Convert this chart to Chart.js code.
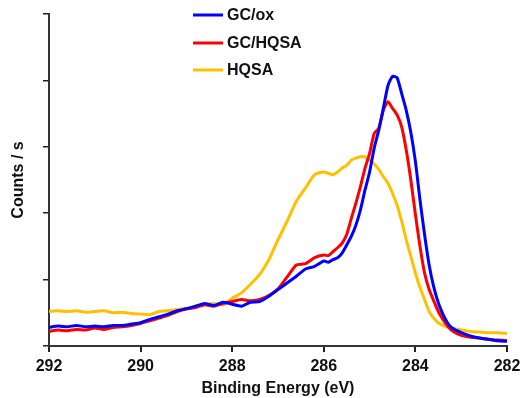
<!DOCTYPE html>
<html>
<head>
<meta charset="utf-8">
<script src="https://cdn.jsdelivr.net/npm/chart.js@4/dist/chart.umd.min.js"></script>
<style>
html,body{margin:0;padding:0;background:#fff;}
#wrap{width:526px;height:398px;position:relative;}
</style>
</head>
<body>
<div id="wrap"><canvas id="c" width="526" height="398"></canvas></div>
<script>
// Binding energies (eV)
const energy = [
  292.0,291.8,291.6,291.4,291.2,291.0,290.8,290.6,290.4,290.2,
  290.0,289.8,289.6,289.4,289.2,289.0,288.8,288.6,288.4,288.2,
  288.0,287.8,287.6,287.4,287.2,287.0,286.8,286.6,286.4,286.2,
  286.0,285.9,285.8,285.7,285.6,285.5,285.4,285.3,285.2,285.1,
  285.0,284.9,284.8,284.7,284.6,284.5,284.4,284.3,284.2,284.1,
  284.0,283.9,283.8,283.7,283.6,283.5,283.4,283.3,283.2,283.0,
  282.8,282.6,282.4,282.2,282.0
];
const gcOx = [
  0.28,0.30,0.29,0.31,0.29,0.30,0.29,0.31,0.31,0.33,
  0.35,0.40,0.44,0.48,0.53,0.56,0.60,0.64,0.61,0.66,
  0.63,0.60,0.66,0.67,0.75,0.85,0.95,1.05,1.16,1.20,
  1.28,1.26,1.30,1.33,1.40,1.52,1.65,1.82,2.05,2.35,
  2.62,2.98,3.25,3.58,3.92,4.06,4.04,3.80,3.55,3.22,
  2.78,2.20,1.68,1.22,0.89,0.65,0.48,0.35,0.27,0.20,
  0.15,0.12,0.10,0.08,0.07
];
const gcHqsa = [
  0.22,0.24,0.23,0.25,0.24,0.27,0.25,0.28,0.29,0.31,
  0.34,0.38,0.42,0.46,0.52,0.56,0.58,0.62,0.60,0.64,
  0.67,0.70,0.68,0.70,0.76,0.86,1.04,1.22,1.24,1.33,
  1.37,1.36,1.42,1.48,1.55,1.68,1.92,2.15,2.40,2.68,
  2.90,3.20,3.28,3.55,3.68,3.58,3.48,3.30,2.95,2.50,
  1.98,1.50,1.10,0.85,0.68,0.52,0.40,0.30,0.23,0.16,
  0.13,0.12,0.10,0.09,0.08
];
const hqsa = [
  0.52,0.53,0.52,0.53,0.51,0.52,0.53,0.50,0.51,0.49,
  0.48,0.47,0.52,0.53,0.55,0.57,0.60,0.62,0.64,0.62,
  0.72,0.80,0.93,1.08,1.30,1.60,1.88,2.18,2.38,2.58,
  2.62,2.60,2.58,2.62,2.68,2.72,2.80,2.83,2.85,2.85,
  2.80,2.74,2.66,2.55,2.45,2.30,2.12,1.88,1.60,1.35,
  1.10,0.88,0.70,0.52,0.42,0.35,0.31,0.29,0.27,0.24,
  0.22,0.21,0.20,0.20,0.19
];
const seriesLabels = ['GC/ox','GC/HQSA','HQSA'];
const seriesColors = ['#0000ff','#ff0000','#ffc000'];
const xTicks = [292,290,288,286,284,282];

const toPts = vals => energy.map((e,i)=>({x:e,y:vals[i]}));
const seriesValues = [gcOx, gcHqsa, hqsa];

const FONT = '"Liberation Sans", Arial, sans-serif';

const legendPlugin = {
  id:'customLegend',
  afterDraw(chart){
    const ctx = chart.ctx;
    const rowsY = [15,43,70];
    ctx.save();
    chart.data.datasets.forEach((ds,i)=>{
      const y = rowsY[i];
      ctx.strokeStyle = ds.borderColor;
      ctx.lineWidth = 3;
      ctx.beginPath();
      ctx.moveTo(193,y); ctx.lineTo(223,y);
      ctx.stroke();
      ctx.fillStyle = '#111';
      ctx.font = 'bold 16px ' + FONT;
      ctx.textBaseline = 'middle';
      ctx.textAlign = 'left';
      ctx.fillText(ds.label, 227, y+1);
    });
    ctx.restore();
  }
};

new Chart(document.getElementById('c'), {
  type:'line',
  data:{
    datasets: seriesLabels.map((lab,i)=>({
      label: lab,
      data: toPts(seriesValues[i]),
      borderColor: seriesColors[i],
      backgroundColor: seriesColors[i],
      borderWidth: 3,
      pointRadius: 0,
      tension: 0.2,
      fill: false
    }))
  },
  options:{
    responsive:false,
    animation:false,
    layout:{padding:{top:14,right:19,bottom:0,left:0}},
    plugins:{legend:{display:false},tooltip:{enabled:false}},
    scales:{
      x:{
        type:'linear',
        reverse:true,
        min:282, max:292,
        afterBuildTicks: s => { s.ticks = xTicks.map(v=>({value:v})); },
        afterFit: s => { s.height = 52; },
        ticks:{color:'#111', font:{family:FONT, size:16, weight:'bold'}, padding:5, maxRotation:0, autoSkip:false},
        grid:{drawOnChartArea:false, drawTicks:true, tickLength:6, color:'#222', lineWidth:2},
        border:{display:true, color:'#333', width:2},
        title:{display:true, text:'Binding Energy (eV)', color:'#111',
               font:{family:FONT, size:16, weight:'bold', lineHeight:1.2}, padding:{top:0,bottom:0}}
      },
      y:{
        min:0, max:5,
        ticks:{stepSize:1, callback:()=> '', padding:0},
        afterFit: s => { s.width = 49; },
        grid:{drawOnChartArea:false, drawTicks:true, tickLength:6, color:'#222', lineWidth:1.5},
        border:{display:true, color:'#333', width:2},
        title:{display:true, text:'Counts / s', color:'#111',
               font:{family:FONT, size:16, weight:'bold', lineHeight:1.2}, padding:{top:9,bottom:0}}
      }
    }
  },
  plugins:[legendPlugin]
});
</script>
</body>
</html>
